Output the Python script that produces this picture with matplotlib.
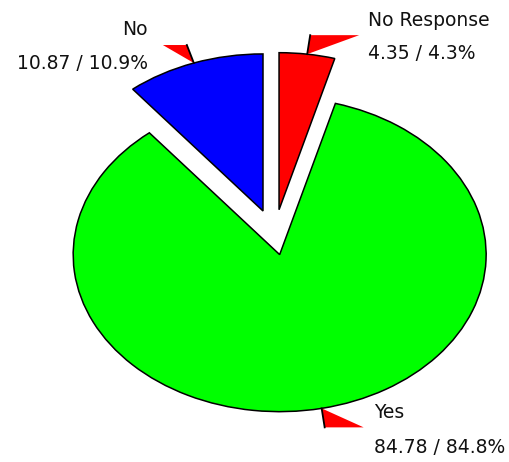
import numpy as np
import matplotlib.pyplot as plt
from matplotlib.patches import Polygon
from matplotlib.transforms import IdentityTransform

labels = ['No', 'Yes', 'No Response']
values = [10.87, 84.78, 4.35]
percents = [10.9, 84.8, 4.3]
colors = ['#0000ff', '#00ff00', '#ff0000']
explode = [0.165, 0.125, 0.165]

# callout layout in pixels relative to the wedge edge point (y up)
callouts = [
    dict(tri=[(0, 0), (-31, 18), (-7, 18)], edge=[(-7, 18), (0, 0)], txt=(-46, 28), val=(-46, -6), ha='right'),
    dict(tri=[(0, 0), (3, -19), (42, -19)], edge=[(0, 0), (3, -19)], txt=(52, -10), val=(52, -45), ha='left'),
    dict(tri=[(0, 0), (3, 19), (52, 19)], edge=[(3, 19), (0, 0)], txt=(61, 28), val=(61, -5), ha='left'),
]

fig = plt.figure(figsize=(5.1, 4.62), dpi=100)
ax = fig.add_axes([0, 0, 1, 1])
wedges, _ = ax.pie(values, colors=colors, explode=explode, startangle=90, counterclock=True,
                   wedgeprops=dict(edgecolor='black', linewidth=1.1))
ax.set_aspect('auto')
ax.set_xlim(-1.329, 1.141)
ax.set_ylim(-1.443, 1.499)
ax.axis('off')

for w, name, v, p, c in zip(wedges, labels, values, percents, callouts):
    th = np.deg2rad((w.theta1 + w.theta2) / 2)
    tip = (w.center[0] + w.r * np.cos(th), w.center[1] + w.r * np.sin(th))
    base = ax.transData.transform(tip)
    tri = [(base[0] + dx, base[1] + dy) for dx, dy in c['tri']]
    ax.add_patch(Polygon(tri, closed=True, facecolor='#ff0000', edgecolor='none',
                         transform=IdentityTransform(), clip_on=False))
    ex = [base[0] + dx for dx, dy in c['edge']]
    ey = [base[1] + dy for dx, dy in c['edge']]
    ax.plot(ex, ey, color='black', linewidth=1.3, transform=IdentityTransform(), clip_on=False)
    ax.annotate(name, xy=tip, xytext=c['txt'], textcoords='offset pixels', ha=c['ha'],
                va='baseline', fontsize=13.5, color='#111111')
    ax.annotate(f'{v:.2f} / {p:.1f}%', xy=tip, xytext=c['val'], textcoords='offset pixels',
                ha=c['ha'], va='baseline', fontsize=13.5, color='#111111')

fig.savefig('out.png', dpi=100)
